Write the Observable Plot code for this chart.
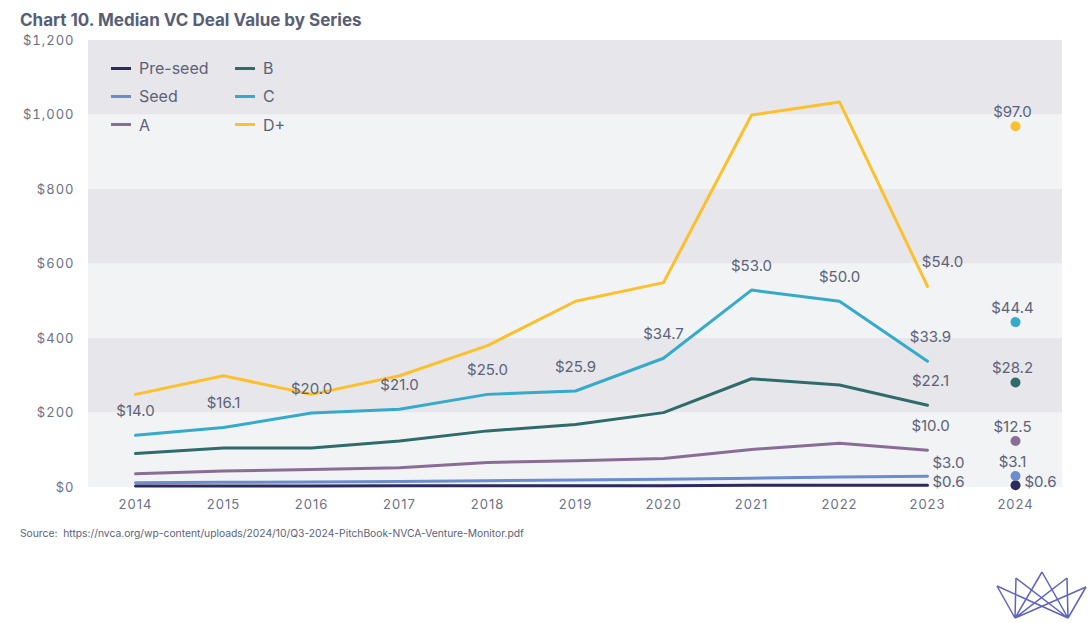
<!DOCTYPE html>
<html>
<head>
<meta charset="utf-8">
<script src="https://cdn.jsdelivr.net/npm/d3@7"></script>
<script src="https://cdn.jsdelivr.net/npm/@observablehq/plot@0.6"></script>
<style>
  body { margin: 0; background: #fff; font-family: Inter, "Open Sans", sans-serif; color: #5c6279; }
  #wrap { position: relative; width: 1091px; height: 623px; overflow: hidden; }
  #title { position: absolute; left: 20px; top: 10px; font-size: 17px; font-weight: 700; color: #575e76; white-space: nowrap; }
  #plot { position: absolute; left: 0; top: 30px; }
  #legend { position: absolute; left: 111px; top: 58px; display: grid; grid-template-columns: 124px 80px; grid-auto-flow: column; grid-template-rows: repeat(3, 28.3px); }
  .item { display: flex; align-items: center; font-size: 16px; color: #5c6279; height: 20px; }
  .sw { width: 20px; height: 3px; margin-right: 8px; }
  #source { position: absolute; left: 20px; top: 527px; font-size: 10.3px; color: #5c6279; }
  #logo { position: absolute; left: 0; top: 0; }
  #plot g[aria-label="x-axis tick label"] text,
  #plot g[aria-label="y-axis tick label"] text { letter-spacing: 1px; }
</style>
</head>
<body>
<div id="wrap">
  <div id="title">Chart 10. Median VC Deal Value by Series</div>
  <div id="plot"></div>
  <div id="legend"></div>
  <div id="source">Source:&nbsp; https://nvca.org/wp-content/uploads/2024/10/Q3-2024-PitchBook-NVCA-Venture-Monitor.pdf</div>
  <svg id="logo" width="1091" height="623">
    <g fill="none" stroke="#5f63bd" stroke-width="1.5" stroke-linejoin="round">
      <path d="M1015,618 L997,586 M1015,618 L1016,578 M1015,618 L1042,572 M1015,618 L1067,578 M1015,618 L1086,587"/>
      <path d="M1068,618 L997,586 M1068,618 L1016,578 M1068,618 L1042,572 M1068,618 L1067,578 M1068,618 L1086,587"/>
    </g>
  </svg>
</div>
<script>
// values in chart units (axis $0 - $1,200); labels show value / 10
const years = [2014, 2015, 2016, 2017, 2018, 2019, 2020, 2021, 2022, 2023];
const seriesNames = ["Pre-seed", "Seed", "A", "B", "C", "D+"];
const preSeed = [4, 4, 4, 5, 5, 5, 5, 6, 6, 6];
const seed = [13, 14, 15, 16, 18, 20, 22, 25, 28, 30];
const seriesA = [37, 44, 48, 53, 67, 72, 78, 102, 119, 100];
const seriesB = [91, 106, 106, 125, 152, 169, 201, 292, 275, 221];
const seriesC = [140, 161, 200, 210, 250, 259, 347, 530, 500, 339];
const seriesD = [250, 300, 250, 300, 381, 500, 550, 1000, 1035, 540];
const lastYear = 2024;
const values2024 = [6, 31, 125, 282, 444, 970];
const yTicks = [0, 200, 400, 600, 800, 1000, 1200];
const colors = ["#2d2b5c", "#6b8cce", "#8a6d96", "#2f6b6b", "#35aacb", "#fcc02c"];

const allSeries = [preSeed, seed, seriesA, seriesB, seriesC, seriesD];
const rows = [];
// draw D+ first, Pre-seed last
for (let s = allSeries.length - 1; s >= 0; s--) {
  years.forEach((yr, i) => rows.push({ series: seriesNames[s], year: yr, v: allSeries[s][i] }));
}
const dots = seriesNames.map((name, i) => ({ series: name, year: lastYear, v: values2024[i] }));
const fmt = v => "$" + (v / 10).toFixed(1);

const cLabels = rows.filter(d => d.series === "C" && d.year !== 2023);
const end = rows.filter(d => d.year === 2023);
const endMid = end.filter(d => ["A", "B", "C"].includes(d.series));
const endD = end.filter(d => d.series === "D+");
const endSeed = end.filter(d => d.series === "Seed");
const endPre = end.filter(d => d.series === "Pre-seed");
const dotsMain = dots.filter(d => d.series !== "Pre-seed");
const dotsPre = dots.filter(d => d.series === "Pre-seed");

const lightBands = yTicks.filter((t, i) => i % 2 === 0 && i < yTicks.length - 1);
const darkBands = yTicks.filter((t, i) => i % 2 === 1);

const txt = { fill: "#5c6279", fontSize: 15, fontFamily: "Inter, sans-serif" };

const chart = Plot.plot({
  width: 1091,
  height: 490,
  marginLeft: 88,
  marginRight: 29,
  marginTop: 10,
  marginBottom: 33,
  style: { background: "transparent", fontSize: "13px", fontFamily: "Inter, sans-serif", color: "#6b7088" },
  x: { type: "point", domain: [...years, lastYear], padding: 0.5, tickSize: 0, tickPadding: 12, tickFormat: d => String(d), label: null },
  y: { domain: [0, 1200], ticks: yTicks, tickSize: 0, tickPadding: 14, tickFormat: d => "$" + d3.format(",")(d), label: null },
  color: { domain: seriesNames, range: colors },
  marks: [
    Plot.rect(lightBands, { y1: d => d, y2: d => d + 200, fill: "#f2f3f5" }),
    Plot.rect(darkBands, { y1: d => d, y2: d => d + 200, fill: "#e7e7eb" }),
    Plot.line(rows, { x: "year", y: "v", z: "series", stroke: "series", strokeWidth: 3 }),
    Plot.dot(dots, { x: "year", y: "v", fill: "series", r: 5 }),
    Plot.text(cLabels, { x: "year", y: "v", text: d => fmt(d.v), dy: -24, ...txt }),
    Plot.text(endMid, { x: "year", y: "v", text: d => fmt(d.v), dy: -24, dx: 3, ...txt }),
    Plot.text(endD, { x: "year", y: "v", text: d => fmt(d.v), dy: -24, dx: 15, ...txt }),
    Plot.text(endSeed, { x: "year", y: "v", text: d => fmt(d.v), dy: -13, dx: 5, textAnchor: "start", ...txt }),
    Plot.text(endPre, { x: "year", y: "v", text: d => fmt(d.v), dy: -3, dx: 5, textAnchor: "start", ...txt }),
    Plot.text(dotsMain, { x: "year", y: "v", text: d => fmt(d.v), dy: -14, dx: -3, ...txt }),
    Plot.text(dotsPre, { x: "year", y: "v", text: d => fmt(d.v), dy: -3, dx: 9, textAnchor: "start", ...txt })
  ]
});
document.getElementById("plot").appendChild(chart);

const legend = document.getElementById("legend");
seriesNames.forEach((name, i) => {
  const item = document.createElement("div");
  item.className = "item";
  item.innerHTML = `<span class="sw" style="background:${colors[i]}"></span>${name}`;
  legend.appendChild(item);
});
</script>
</body>
</html>
